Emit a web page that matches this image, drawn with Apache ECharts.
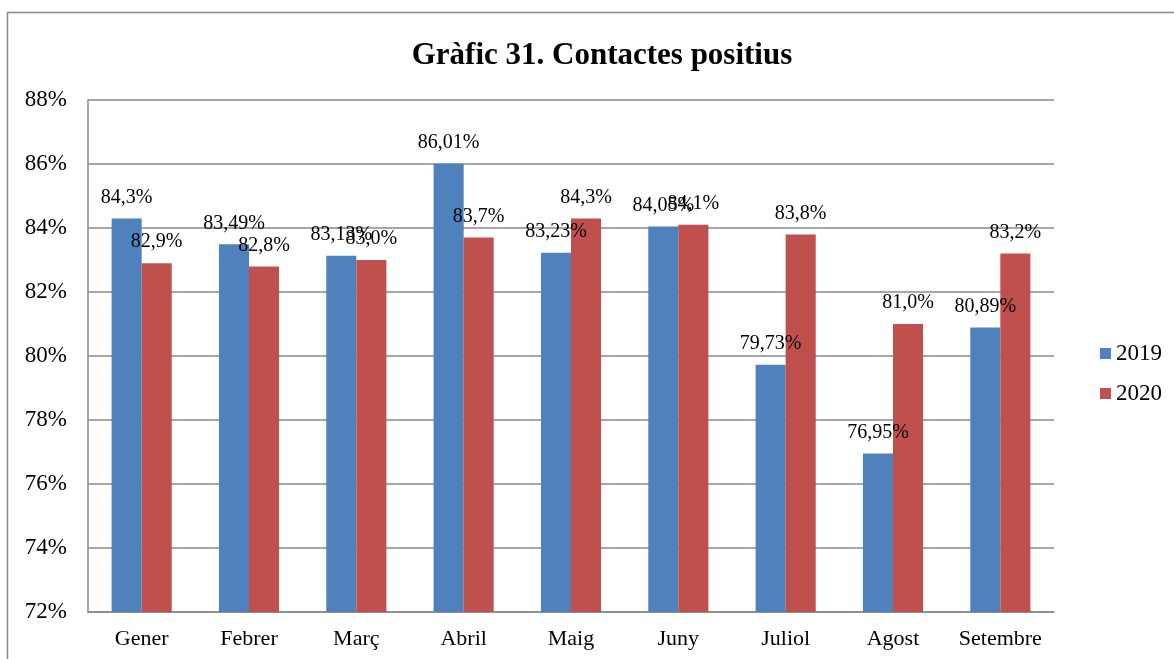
<!DOCTYPE html>
<html>
<head>
<meta charset="utf-8">
<script src="https://cdn.jsdelivr.net/npm/echarts@6/dist/echarts.min.js"></script>
<style>html,body{margin:0;padding:0;background:#fff;}#c{width:1174px;height:659px;}</style>
</head>
<body>
<div id="c"></div>
<script>
var categories = ['Gener','Febrer','Març','Abril','Maig','Juny','Juliol','Agost','Setembre'];
var values2019 = [84.3, 83.49, 83.13, 86.01, 83.23, 84.05, 79.73, 76.95, 80.89];
var labels2019 = ['84,3%','83,49%','83,13%','86,01%','83,23%','84,05%','79,73%','76,95%','80,89%'];
var values2020 = [82.9, 82.8, 83.0, 83.7, 84.3, 84.1, 83.8, 81.0, 83.2];
var labels2020 = ['82,9%','82,8%','83,0%','83,7%','84,3%','84,1%','83,8%','81,0%','83,2%'];
var seriesNames = ['2019','2020'];
var yTicks = {min:72, max:88, step:2};

var FONT = '"Liberation Serif", "DejaVu Serif", serif';
var chart = echarts.init(document.getElementById('c'), null, {renderer:'canvas'});
function lbl(arr){ return function(p){ return arr[p.dataIndex]; }; }
chart.setOption({
  animation:false,
  backgroundColor:'#fff',
  title:{text:'Gràfic 31. Contactes positius', left:597, top:35, textAlign:'center',
    textStyle:{fontFamily:FONT, fontSize:31, fontWeight:'bold', color:'#000'}},
  legend:{orient:'vertical', left:1095, top:337, itemWidth:11, itemHeight:11, itemGap:17,
    icon:'rect', textStyle:{fontFamily:FONT, fontSize:23, color:'#000'}, data:seriesNames},
  grid:{left:88, right:120, top:100, bottom:47},
  xAxis:{type:'category', data:categories,
    axisLine:{lineStyle:{color:'#888', width:1.5}}, axisTick:{show:false},
    axisLabel:{interval:0, fontFamily:FONT, fontSize:22, color:'#000', margin:16}},
  yAxis:{type:'value', min:yTicks.min, max:yTicks.max, interval:yTicks.step,
    axisLine:{show:true, lineStyle:{color:'#888', width:1.5}}, axisTick:{show:false},
    splitLine:{lineStyle:{color:'#888', width:1.5}},
    axisLabel:{fontFamily:FONT, fontSize:23, color:'#000', margin:21, formatter:'{value}%'}},
  series:[
    {name:seriesNames[0], type:'bar', data:values2019, barGap:'0%', barCategoryGap:'44%',
      itemStyle:{color:'#4F81BD'},
      label:{show:true, position:'top', distance:11, formatter:lbl(labels2019),
        fontFamily:FONT, fontSize:20, color:'#000'}},
    {name:seriesNames[1], type:'bar', data:values2020, barGap:'0%', barCategoryGap:'44%',
      itemStyle:{color:'#C0504D'},
      label:{show:true, position:'top', distance:11, formatter:lbl(labels2020),
        fontFamily:FONT, fontSize:20, color:'#000'}}
  ],
  graphic:[{type:'rect', shape:{x:7.5, y:12.5, width:1200, height:700}, silent:true,
    style:{fill:'none', stroke:'#888', lineWidth:1.5}, z:-1}]
});
</script>
</body>
</html>
